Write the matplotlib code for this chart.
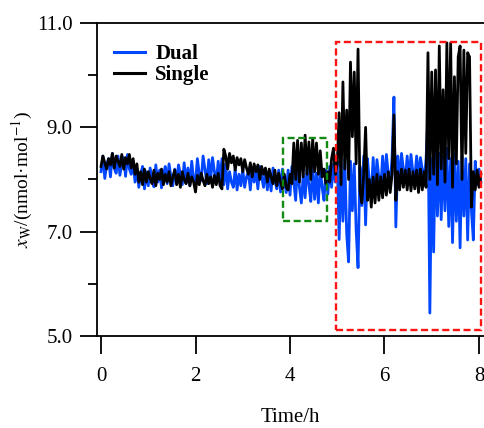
import matplotlib
matplotlib.use('Agg')
import matplotlib.pyplot as plt
from matplotlib.patches import Rectangle
import numpy as np

# sampling step of both records, hours
dt = 0.04

# Dual channel (t = 0 ... 8.04 h)
dual = [
    8.15, 8.45, 8.02, 8.30, 8.40, 8.05, 8.50, 8.22, 8.12, 8.45, 8.08, 8.32, 8.42, 8.06, 8.48, 8.20, 8.10, 8.35, 7.95, 8.20, 7.85, 8.10, 8.25, 7.82, 8.15,
    7.88, 8.22, 8.02, 7.86, 8.28, 7.95, 8.18, 7.84, 8.10, 8.25, 7.92, 8.30, 8.05, 7.88, 8.20, 7.95, 8.28, 8.10, 7.90, 8.32, 7.93, 8.22, 7.88, 8.35, 8.00,
    7.95, 8.40, 8.10, 7.98, 8.45, 8.20, 7.92, 8.38, 8.00, 8.42, 8.15, 7.95, 8.35, 7.98, 8.40, 7.90, 8.30, 7.82, 8.15, 7.95, 7.85, 8.20, 7.80, 8.10, 7.88,
    8.20, 7.85, 8.05, 8.15, 7.80, 8.22, 7.95, 8.18, 7.82, 8.25, 8.05, 7.85, 8.20, 7.80, 8.10, 7.78, 8.22, 7.98, 7.82, 8.18, 7.76, 8.20, 8.00, 7.75, 8.18,
    7.70, 8.25, 7.95, 7.60, 8.30, 7.85, 7.55, 8.10, 7.65, 8.20, 7.90, 7.58, 8.28, 7.62, 8.12, 7.55, 8.22, 7.85, 7.60, 8.18, 7.72, 8.25, 7.85, 8.30, 7.95,
    8.35, 6.85, 8.30, 7.20, 8.40, 6.95, 6.42, 8.35, 7.40, 8.30, 7.03, 6.31, 8.25, 7.50, 8.45, 7.13, 8.40, 7.95, 7.70, 8.42, 7.75, 8.38, 8.05, 7.80, 8.45,
    7.85, 8.48, 8.10, 7.90, 8.42, 9.58, 7.09, 8.45, 7.95, 8.50, 8.20, 8.00, 8.45, 7.98, 8.48, 8.15, 8.02, 8.45, 8.00, 8.42, 8.20, 7.95, 8.40, 9.20, 5.44,
    8.40, 6.61, 8.80, 7.30, 8.50, 7.23, 8.45, 7.40, 8.60, 7.10, 8.40, 6.79, 8.50, 7.20, 8.35, 6.69, 8.45, 7.30, 8.40, 6.84, 8.30, 7.40, 6.84, 8.35, 7.90,
    8.20, 7.95,
]

# Single channel, same time base
single = [
    8.25, 8.45, 8.32, 8.20, 8.40, 8.28, 8.50, 8.22, 8.45, 8.35, 8.25, 8.48, 8.20, 8.42, 8.30, 8.48, 8.22, 8.40, 8.10, 8.30, 7.95, 8.15, 7.90, 8.20, 7.95,
    8.15, 8.02, 7.92, 8.18, 7.88, 8.12, 8.00, 8.20, 7.90, 8.10, 7.95, 8.15, 7.88, 8.05, 8.18, 7.90, 8.10, 7.85, 8.15, 8.00, 7.92, 8.12, 7.88, 8.05, 7.95,
    7.76, 8.08, 7.90, 8.12, 7.98, 7.88, 8.10, 7.92, 8.05, 7.85, 8.08, 7.90, 8.12, 7.88, 7.82, 8.58, 8.45, 8.20, 8.50, 8.32, 8.45, 8.18, 8.42, 8.28, 8.40,
    8.15, 8.38, 8.22, 8.10, 8.32, 8.05, 8.30, 8.15, 8.28, 8.00, 8.25, 8.10, 8.22, 7.95, 8.20, 8.05, 7.92, 8.18, 7.88, 8.12, 7.95, 7.82, 8.10, 7.85, 7.80,
    8.10, 7.92, 8.70, 8.00, 8.75, 7.95, 8.70, 8.05, 8.85, 8.10, 8.72, 8.00, 8.78, 8.15, 8.70, 8.10, 8.55, 8.05, 8.20, 7.92, 8.15, 7.95, 8.40, 8.60, 8.10,
    8.30, 9.28, 7.90, 9.87, 8.20, 9.33, 8.00, 10.25, 8.82, 10.06, 8.30, 10.50, 7.80, 7.55, 8.10, 9.00, 7.60, 8.00, 7.47, 8.05, 7.55, 8.10, 7.60, 8.05, 7.65,
    8.10, 7.70, 8.15, 7.75, 8.10, 9.24, 7.60, 8.15, 7.80, 8.20, 7.85, 8.18, 7.80, 8.20, 7.78, 8.15, 7.82, 8.18, 7.75, 8.20, 7.80, 8.15, 7.85, 10.43, 8.00,
    10.06, 8.10, 10.10, 7.90, 10.56, 8.20, 9.72, 7.95, 10.62, 8.40, 10.62, 7.85, 9.97, 8.30, 10.35, 10.56, 8.00, 10.48, 8.50, 10.43, 10.35, 7.47, 8.15, 7.80, 8.18,
    7.85, 8.10,
]

# highlighted windows: (t0, t1, y0, y1)
green_box = (3.85, 4.78, 7.21, 8.80)
red_box = (4.97, 8.04, 5.12, 10.63)

plt.rcParams['font.family'] = 'Liberation Serif'
plt.rcParams['mathtext.fontset'] = 'stix'
plt.rcParams['font.size'] = 15

fig = plt.figure(figsize=(4.84, 4.28), dpi=100)
ax = fig.add_axes([97 / 484, 92 / 428, 387 / 484, 313 / 428])

t_dual = np.arange(len(dual)) * dt
t_single = np.arange(len(single)) * dt
ax.plot(t_dual, dual, color='#0047ff', lw=2.0, label='Dual')
ax.plot(t_single, single, color='black', lw=2.0, label='Single')

for (x0, x1, y0, y1), c in [(green_box, '#138a13'), (red_box, '#ff1414')]:
    ax.add_patch(Rectangle((x0, y0), x1 - x0, y1 - y0, fill=False, edgecolor=c,
                           lw=1.7, linestyle=(0, (3, 1.5)), zorder=3))

ax.set_xlim(-0.085, 8.106)
ax.set_ylim(5.0, 11.0)
ax.set_xticks([0, 2, 4, 6, 8])
ax.set_yticks([5, 7, 9, 11])
ax.set_yticklabels(['5.0', '7.0', '9.0', '11.0'])
ax.set_yticks([6, 8, 10], minor=True)
ax.tick_params(axis='both', which='major', direction='out', width=1.3)
ax.tick_params(axis='y', which='major', length=12.5, pad=5)
ax.tick_params(axis='x', which='major', length=13, pad=9)
ax.tick_params(axis='y', which='minor', direction='out', length=6.5, width=1.3)

for s in ['left', 'bottom', 'top']:
    ax.spines[s].set_linewidth(1.3)
ax.spines['right'].set_visible(False)

ax.set_xlabel('Time/h', labelpad=16)
fig.text(22 / 484, 1 - 180 / 428, r'$x_{\rm W}$/(nmol·mol$^{-1}$)', rotation=90,
         ha='center', va='center', fontsize=14)

ax.legend(loc='upper left', bbox_to_anchor=(0.0, 0.985), frameon=False,
          prop={'weight': 'bold', 'size': 15}, handlelength=1.5,
          handletextpad=0.5, labelspacing=0.05, borderaxespad=0.4)
for line in ax.get_legend().get_lines():
    line.set_linewidth(2.2)

fig.savefig('out.png', dpi=100)
plt.close()
